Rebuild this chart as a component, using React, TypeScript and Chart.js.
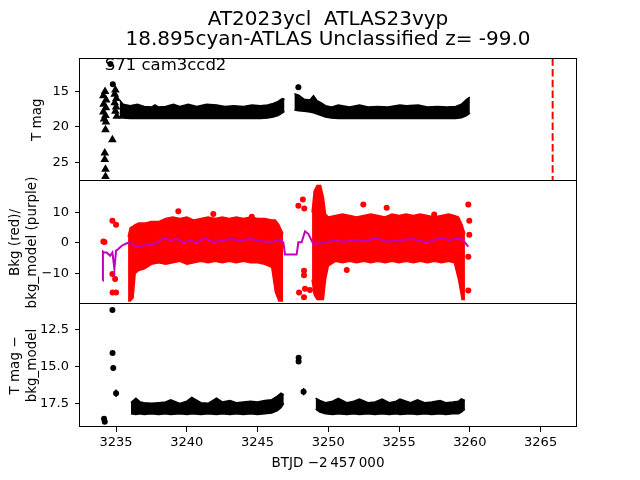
import React, { useEffect, useRef } from "react";
import { Chart, registerables } from "chart.js";

Chart.register(...registerables);
Chart.defaults.font.family = '"DejaVu Sans", sans-serif';
Chart.defaults.color = "#000";

// ---------------- axes ----------------
const xMin = 3232.45;
const xMax = 3267.5;
const xTickValues = [3235, 3240, 3245, 3250, 3255, 3260, 3265];
const topTickValues = [15, 20, 25];
const midTickValues = [10, 0, -10];
const botTickValues = [12.5, 15.0, 17.5];
const topMin = 10.3;
const topMax = 27.65;
const midMin = -20;
const midMax = 20.3;
const botMin = 10.73;
const botMax = 19.11;

const titleLines = ["AT2023ycl  ATLAS23vyp", "18.895cyan-ATLAS Unclassified z= -99.0"];
const annotText = "S71 cam3ccd2";
const annotX = 3234.2;
const annotY = 11.95;
const xLabel = "BTJD \u22122\u2009457\u2009000";
const topYLabel = "T mag";
const midYLabel = ["Bkg (red)/", "bkg_model (purple)"];
const botYLabel = ["T mag \u2212", "bkg_model"];

// ---------------- top panel (T mag) ----------------
const topTriX = [3234.22, 3234.1, 3234.3, 3234.12, 3234.28, 3234.1, 3234.25, 3234.15, 3234.28, 3234.25, 3234.74, 3234.2, 3234.2, 3234.25, 3234.25, 3234.95, 3234.9, 3235.02, 3234.9, 3235.0, 3234.95, 3235.05];
const topTriY = [15.0, 15.6, 16.2, 16.8, 17.3, 17.9, 18.4, 18.9, 19.3, 20.4, 21.8, 23.7, 24.6, 26.0, 27.0, 14.8, 15.4, 16.0, 16.6, 17.2, 17.8, 18.5];
const topDotX = [3234.6, 3234.77, 3247.88];
const topDotY = [11.1, 13.96, 14.4];
const topDotErr = [0.05, 0.05, 0.4];

const topBand1X = [3235.25, 3235.5, 3236.0, 3236.5, 3237.0, 3237.5, 3237.75, 3238.0, 3238.5, 3239.05, 3239.5, 3240.1, 3240.7, 3241.4, 3242.1, 3242.7, 3243.3, 3244.0, 3244.6, 3245.2, 3245.7, 3246.1, 3246.45, 3246.75, 3246.9];
const topBand1Hi = [16.2, 16.8, 17.0, 16.8, 17.1, 17.2, 16.9, 17.2, 17.1, 16.8, 17.1, 16.8, 17.1, 16.8, 16.9, 17.1, 17.0, 17.1, 16.9, 17.0, 16.9, 16.7, 16.4, 16.0, 16.1];
const topBand1Lo = [18.7, 18.75, 18.8, 18.8, 18.8, 18.8, 18.8, 18.8, 18.8, 18.8, 18.8, 18.8, 18.8, 18.8, 18.8, 18.8, 18.8, 18.8, 18.8, 18.8, 18.75, 18.6, 18.4, 18.0, 17.8];

const topBand2X = [3247.6, 3247.9, 3248.3, 3248.7, 3248.95, 3249.2, 3249.5, 3249.8, 3250.2, 3250.7, 3251.5, 3252.2, 3252.8, 3253.5, 3254.2, 3255.06, 3255.5, 3256.35, 3257.0, 3257.7, 3258.4, 3259.0, 3259.4, 3259.77, 3260.0];
const topBand2Hi = [15.3, 15.5, 16.1, 16.2, 15.6, 16.3, 16.6, 17.0, 17.2, 16.9, 17.2, 16.9, 17.2, 17.1, 17.2, 16.9, 17.0, 16.9, 17.2, 17.1, 17.2, 17.1, 16.8, 16.1, 15.8];
const topBand2Lo = [17.6, 17.7, 17.8, 17.9, 18.0, 18.2, 18.4, 18.6, 18.75, 18.8, 18.8, 18.8, 18.8, 18.8, 18.8, 18.8, 18.8, 18.8, 18.8, 18.8, 18.8, 18.8, 18.7, 18.4, 18.05];

const vlineX = 3265.85;

// ---------------- middle panel (Bkg) ----------------
const midBand1X = [3235.85, 3236.0, 3236.2, 3236.35, 3236.6, 3237.0, 3237.5, 3238.0, 3238.5, 3239.0, 3239.5, 3240.0, 3240.5, 3241.0, 3241.5, 3242.0, 3242.5, 3243.0, 3243.5, 3244.0, 3244.5, 3245.0, 3245.5, 3246.0, 3246.25, 3246.5, 3246.8];
const midBand1Hi = [2, 5, 5.5, 6, 6.5, 6.5, 7, 7, 8, 8.5, 8, 8.5, 7.5, 8, 8.5, 8, 8.5, 8, 8.5, 8, 8.5, 8, 8, 7.5, 7.5, 6, 3];
const midBand1Lo = [-19, -19, -18, -10, -9, -8.5, -7, -6.5, -7, -6.5, -6, -7, -6.5, -6, -6.5, -6, -6.5, -6, -6.5, -6, -6.5, -6.5, -7, -8, -16, -19, -19];

const midBand2X = [3248.85, 3249.0, 3249.2, 3249.45, 3249.65, 3249.8, 3250.0, 3250.5, 3251.0, 3251.5, 3252.0, 3252.5, 3253.0, 3253.5, 3254.0, 3254.5, 3255.0, 3255.5, 3256.0, 3256.5, 3257.0, 3257.5, 3258.0, 3258.5, 3258.9, 3259.2, 3259.45, 3259.65];
const midBand2Hi = [10, 17, 18.8, 18.8, 15, 9.5, 8.5, 9, 9.5, 9, 8.5, 9, 9.5, 9, 8.5, 9.5, 9, 9.5, 9, 9.5, 9, 8.5, 9, 9.5, 9, 8.5, 6, 3];
const midBand2Lo = [-12, -17, -18.5, -18.5, -18.5, -12, -7.5, -6, -6.5, -6, -6.5, -6, -6.5, -6, -6.5, -6, -6.5, -6, -6.5, -6, -6.5, -6, -6.5, -6, -6.5, -12, -18.5, -18.5];

const midDotX = [3234.1, 3234.18, 3234.74, 3235.0, 3234.74, 3234.93, 3234.75, 3235.0, 3239.4, 3241.87, 3244.59, 3247.88, 3248.2, 3248.3, 3248.28, 3248.28, 3247.93, 3248.28, 3248.7, 3248.35, 3251.3, 3252.47, 3254.12, 3257.48, 3259.89, 3259.96, 3259.96, 3259.89, 3259.89];
const midDotY = [0.5, 0.3, 7.3, 6.0, -10.2, -11.8, -16.2, -16.2, 10.4, 9.5, 8.6, 12.2, 14.2, 11.3, -9.1, -10.6, -16.2, -17.8, -15.4, -15.0, -8.9, 12.6, 11.5, 9.3, 12.6, 7.3, 2.7, -4.5, -15.6];

const modelX = [3234.06, 3234.07, 3234.15, 3234.34, 3234.58, 3234.74, 3234.88, 3235.0, 3235.16, 3235.4, 3235.76, 3235.99, 3236.22, 3236.58, 3237.17, 3237.87, 3238.34, 3238.81, 3239.29, 3239.75, 3240.23, 3240.7, 3241.29, 3241.87, 3242.35, 3243.17, 3243.76, 3244.47, 3245.17, 3245.88, 3246.58, 3246.82, 3246.94, 3247.76, 3247.88, 3248.11, 3248.35, 3248.58, 3248.94, 3249.41, 3249.88, 3250.35, 3251.06, 3251.76, 3252.47, 3253.41, 3254.12, 3255.06, 3256.0, 3256.95, 3257.89, 3258.6, 3259.3, 3259.65, 3259.89];
const modelY = [-12.4, -2.8, -3.1, -3.1, -4.2, -3.1, -8.5, -2.5, -2.0, -0.9, -0.1, 0.2, -0.7, -1.4, -0.6, -0.1, 1.6, 1.0, 1.3, 0.2, 0.8, 0.2, 1.6, 0.2, 0.8, 1.3, 0.8, 1.3, 0.8, 0.2, 1.0, 0.2, -3.8, -3.8, 0.2, 0.2, 3.8, 3.0, -0.3, -0.1, 0.2, 0.8, 0.4, 1.0, 0.5, 1.6, 0.4, 1.0, 1.3, 0.2, 1.6, 1.0, 1.6, 0.2, -1.2];

// ---------------- bottom panel (T mag - bkg_model) ----------------
const botBand1X = [3236.05, 3236.4, 3236.7, 3237.0, 3237.5, 3238.0, 3238.5, 3238.86, 3239.5, 3240.0, 3240.35, 3241.0, 3241.5, 3242.1, 3242.5, 3243.05, 3243.5, 3244.0, 3244.5, 3245.0, 3245.5, 3246.0, 3246.4, 3246.65, 3246.85];
const botBand1Hi = [17.45, 17.15, 17.4, 17.45, 17.5, 17.45, 17.4, 17.25, 17.5, 17.35, 17.1, 17.45, 17.5, 17.15, 17.4, 17.3, 17.45, 17.4, 17.35, 17.4, 17.3, 17.25, 17.0, 16.8, 16.9];
const botBand1Lo = [18.2, 18.25, 18.2, 18.25, 18.2, 18.25, 18.2, 18.25, 18.2, 18.25, 18.2, 18.25, 18.2, 18.25, 18.2, 18.25, 18.2, 18.25, 18.2, 18.25, 18.2, 18.15, 18.0, 17.8, 17.5];

const botBand2X = [3249.1, 3249.4, 3249.8, 3250.3, 3250.7, 3251.3, 3251.8, 3252.2, 3252.8, 3253.3, 3253.8, 3254.3, 3254.8, 3255.06, 3255.8, 3256.3, 3256.8, 3257.3, 3257.9, 3258.3, 3258.8, 3259.2, 3259.4, 3259.65];
const botBand2Hi = [17.15, 17.3, 17.45, 17.35, 17.15, 17.45, 17.35, 17.2, 17.45, 17.4, 17.2, 17.45, 17.35, 17.2, 17.45, 17.25, 17.45, 17.4, 17.3, 17.45, 17.4, 17.35, 17.2, 17.3];
const botBand2Lo = [17.9, 18.1, 18.2, 18.25, 18.2, 18.25, 18.2, 18.25, 18.2, 18.25, 18.2, 18.25, 18.2, 18.25, 18.2, 18.25, 18.2, 18.25, 18.2, 18.25, 18.2, 18.2, 18.1, 17.9];

const botDotX = [3234.74, 3234.75, 3234.8, 3235.0, 3234.15, 3234.2, 3247.9, 3247.9, 3248.25];
const botDotY = [11.14, 14.07, 15.09, 16.81, 18.55, 18.75, 14.4, 14.65, 16.7];
const botDotErr = [0.05, 0.05, 0.05, 0.25, 0.05, 0.05, 0.05, 0.05, 0.25];

// ---------------- colours ----------------
const BLACK = "#000000";
const RED = "#ff0000";
const PURPLE = "#bf00bf";

// ---------------- helpers ----------------
const pts = (xs: number[], ys: number[]) => xs.map((x, i) => ({ x, y: ys[i] }));

const band = (xs: number[], hi: number[], lo: number[], color: string, order: number) => [
  { type: "line", data: pts(xs, hi), borderColor: color, borderWidth: 1.5, pointRadius: 0, fill: false, tension: 0, order },
  { type: "line", data: pts(xs, lo), borderColor: color, borderWidth: 1.5, pointRadius: 0, fill: "-1", backgroundColor: color, tension: 0, order },
];

const framePlugin = {
  id: "frame",
  afterDraw(chart: any, _a: any, opts: any) {
    const { ctx, chartArea: a } = chart;
    const l = Math.round(a.left) - 0.5;
    const r = Math.round(a.right) + 0.5;
    const t = Math.round(a.top) + 0.5;
    const b = Math.round(a.bottom) - 0.5;
    ctx.save();
    ctx.strokeStyle = "#000";
    ctx.lineWidth = 1;
    ctx.beginPath();
    ctx.moveTo(l, Math.round(a.top));
    ctx.lineTo(l, Math.round(a.bottom));
    ctx.moveTo(r, Math.round(a.top));
    ctx.lineTo(r, Math.round(a.bottom));
    if (opts.top) { ctx.moveTo(l, t); ctx.lineTo(r, t); }
    if (opts.bottom) { ctx.moveTo(l, b); ctx.lineTo(r, b); }
    ctx.stroke();
    ctx.restore();
  },
};

const errPlugin = {
  id: "errbars",
  afterDatasetsDraw(chart: any) {
    const { ctx, chartArea: a } = chart;
    const xs = chart.scales.x;
    const ys = chart.scales.y;
    ctx.save();
    ctx.beginPath();
    ctx.rect(a.left, a.top, a.right - a.left, a.bottom - a.top);
    ctx.clip();
    chart.data.datasets.forEach((ds: any) => {
      if (!ds.errY) return;
      ctx.strokeStyle = "#000";
      ctx.lineWidth = 1.5;
      ds.data.forEach((p: any, i: number) => {
        const e = ds.errY[i];
        const px = xs.getPixelForValue(p.x);
        ctx.beginPath();
        ctx.moveTo(px, ys.getPixelForValue(p.y - e));
        ctx.lineTo(px, ys.getPixelForValue(p.y + e));
        ctx.stroke();
      });
    });
    ctx.restore();
  },
};

const annotPlugin = {
  id: "annot",
  afterDatasetsDraw(chart: any, _a: any, opts: any) {
    if (!opts || !opts.text) return;
    const { ctx } = chart;
    ctx.save();
    ctx.font = '16.5px "DejaVu Sans"';
    ctx.fillStyle = "#000";
    ctx.textBaseline = "alphabetic";
    ctx.textAlign = "left";
    ctx.fillText(opts.text, chart.scales.x.getPixelForValue(opts.x), chart.scales.y.getPixelForValue(opts.y));
    ctx.restore();
  },
};

const fmtMinus = (v: number) => (v < 0 ? "\u2212" + Math.abs(v) : String(v));

const xScale = (show: boolean) => ({
  type: "linear",
  min: xMin,
  max: xMax,
  display: show,
  afterBuildTicks: (s: any) => { s.ticks = xTickValues.map((v) => ({ value: v })); },
  afterFit: (s: any) => { s.height = show ? 53 : 0; s.paddingLeft = 0; s.paddingRight = 0; },
  grid: { drawOnChartArea: false, drawTicks: true, tickLength: 5, color: "#000", tickColor: "#000", lineWidth: 1 },
  border: { display: false },
  ticks: { color: "#000", font: { size: 13 }, padding: 3, maxRotation: 0, autoSkip: false, callback: (v: number) => String(v) },
  title: { display: show, text: xLabel, color: "#000", font: { size: 13.5 }, padding: { top: 0, bottom: 8.3 } },
});

const yScale = (min: number, max: number, reverse: boolean, tickValues: number[], title: any, padTop: number, fmt: (v: number) => string) => ({
  type: "linear",
  position: "left",
  min,
  max,
  reverse,
  afterBuildTicks: (s: any) => { s.ticks = tickValues.map((v) => ({ value: v })); },
  afterFit: (s: any) => { s.width = 80; s.paddingTop = 0; s.paddingBottom = 0; },
  grid: { drawOnChartArea: false, drawTicks: true, tickLength: 5, color: "#000", tickColor: "#000", lineWidth: 1 },
  border: { display: false },
  ticks: { color: "#000", font: { size: 13 }, padding: 6, autoSkip: false, callback: fmt },
  title: { display: true, text: title, color: "#000", font: { size: 13.5, lineHeight: 1.3 }, padding: { top: padTop, bottom: 0 } },
});

// panel placement inside the 640x480 figure: [top padding, bottom padding]
const baseOptions = (padTop: number, padBottom: number, extraPlugins: any, scales: any) => ({
  responsive: false,
  animation: false,
  devicePixelRatio: 1,
  events: [],
  layout: { autoPadding: false, padding: { left: 0, right: 64, top: padTop, bottom: padBottom } },
  scales,
  plugins: { legend: { display: false }, tooltip: { enabled: false }, ...extraPlugins },
});

function topConfig(): any {
  return {
    type: "scatter",
    data: {
      datasets: [
        ...band(topBand1X, topBand1Hi, topBand1Lo, BLACK, 2),
        ...band(topBand2X, topBand2Hi, topBand2Lo, BLACK, 2),
        { type: "scatter", data: pts(topTriX, topTriY), pointStyle: "triangle", pointRadius: 5, backgroundColor: BLACK, borderColor: BLACK, borderWidth: 0, order: 1 },
        { type: "scatter", data: pts(topDotX, topDotY), errY: topDotErr, pointRadius: 3, backgroundColor: BLACK, borderColor: BLACK, borderWidth: 0, order: 1 },
        { type: "line", data: [{ x: vlineX, y: topMin }, { x: vlineX, y: topMax }], borderColor: RED, borderWidth: 2, borderDash: [7.5, 3.2], pointRadius: 0, fill: false, order: 0 },
      ],
    },
    options: baseOptions(
      0,
      299,
      {
        title: { display: true, text: titleLines, color: "#000", fullSize: false, font: { size: 20, weight: "normal", lineHeight: 1.0 }, padding: { top: 9.8, bottom: 8.5 } },
        frame: { top: true, bottom: true },
        annot: { text: annotText, x: annotX, y: annotY },
      },
      { x: xScale(false), y: yScale(topMin, topMax, true, topTickValues, topYLabel, 29.2, (v) => String(v)) }
    ),
    plugins: [framePlugin, errPlugin, annotPlugin],
  };
}

function midConfig(): any {
  return {
    type: "scatter",
    data: {
      datasets: [
        ...band(midBand1X, midBand1Hi, midBand1Lo, RED, 2),
        ...band(midBand2X, midBand2Hi, midBand2Lo, RED, 2),
        { type: "scatter", data: pts(midDotX, midDotY), pointRadius: 3, backgroundColor: RED, borderColor: RED, borderWidth: 0, order: 1 },
        { type: "line", data: pts(modelX, modelY), borderColor: PURPLE, borderWidth: 2, pointRadius: 0, fill: false, tension: 0, order: 0 },
      ],
    },
    options: baseOptions(
      181,
      176,
      { frame: { top: false, bottom: true } },
      { x: xScale(false), y: yScale(midMin, midMax, false, midTickValues, midYLabel, 6.3, fmtMinus) }
    ),
    plugins: [framePlugin],
  };
}

function botConfig(): any {
  return {
    type: "scatter",
    data: {
      datasets: [
        ...band(botBand1X, botBand1Hi, botBand1Lo, BLACK, 2),
        ...band(botBand2X, botBand2Hi, botBand2Lo, BLACK, 2),
        { type: "scatter", data: pts(botDotX, botDotY), errY: botDotErr, pointRadius: 3, backgroundColor: BLACK, borderColor: BLACK, borderWidth: 0, order: 1 },
      ],
    },
    options: baseOptions(
      304,
      0,
      { frame: { top: false, bottom: true } },
      { x: xScale(true), y: yScale(botMin, botMax, true, botTickValues, botYLabel, 6.3, (v) => v.toFixed(1)) }
    ),
    plugins: [framePlugin, errPlugin],
  };
}

export default function App() {
  const topRef = useRef<HTMLCanvasElement>(null);
  const midRef = useRef<HTMLCanvasElement>(null);
  const botRef = useRef<HTMLCanvasElement>(null);

  useEffect(() => {
    const charts = [
      new Chart(topRef.current as HTMLCanvasElement, topConfig()),
      new Chart(midRef.current as HTMLCanvasElement, midConfig()),
      new Chart(botRef.current as HTMLCanvasElement, botConfig()),
    ];
    return () => charts.forEach((c) => c.destroy());
  }, []);

  const layer = { position: "absolute" as const, left: 0, top: 0 };
  return (
    <div style={{ position: "absolute", left: 0, top: 0, width: 640, height: 480, background: "#fff", overflow: "hidden" }}>
      <canvas ref={topRef} width={640} height={480} style={layer} />
      <canvas ref={midRef} width={640} height={480} style={layer} />
      <canvas ref={botRef} width={640} height={480} style={layer} />
    </div>
  );
}
